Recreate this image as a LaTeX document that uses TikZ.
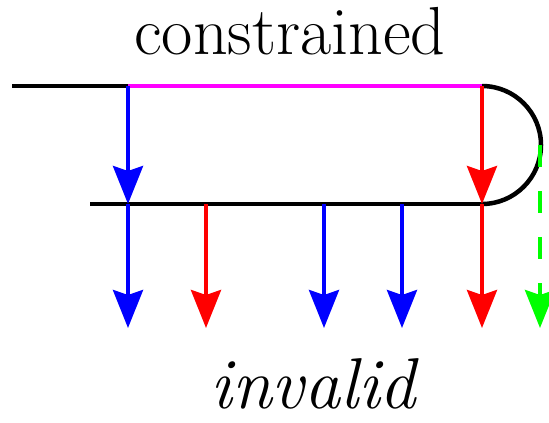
\documentclass[tikz,border=0pt]{standalone}
\usetikzlibrary{arrows.meta}

\definecolor{cblue}{RGB}{0,0,255}
\definecolor{cred}{RGB}{255,0,0}
\definecolor{cgreen}{RGB}{0,255,0}
\definecolor{cmagenta}{RGB}{255,0,255}

\tikzset{
  wire/.style={line width=4.5pt},
  jump/.style={line width=4pt, -{Stealth[length=38pt,width=30pt,inset=5pt]}},
  label/.style={inner sep=0pt, anchor=base},
}

\begin{document}
\begin{tikzpicture}[x=1pt,y=-1pt]
\useasboundingbox (0,0) rectangle (549,423);

% Points on the two levels
\coordinate (inL) at (12,86);
\coordinate (topA) at (128,86);
\coordinate (topE) at (482,86);
\coordinate (outL) at (90,204);
\coordinate (botA) at (128,204);
\coordinate (botB) at (206,204);
\coordinate (botC) at (324,204);
\coordinate (botD) at (402,204);
\coordinate (botE) at (482,204);
\coordinate (arcG) at (540,145);

% Ends of the arrows below
\coordinate (endA) at (128,328);
\coordinate (endB) at (206,328);
\coordinate (endC) at (324,328);
\coordinate (endD) at (402,328);
\coordinate (endE) at (482,328);
\coordinate (endG) at (540,328);

% Upper and lower lines with the bend
\draw[wire] (inL) -- (topA);
\draw[wire, cmagenta] (topA) -- (topE);
\draw[wire] (outL) -- (botE);
\draw[wire] (topE) arc[start angle=90, end angle=-90, radius=59pt];

% Green dashed arrow
\draw[jump, cgreen, dash pattern=on 22pt off 24pt] (arcG) -- (endG);

% Arrows from the upper line
\draw[jump, cblue] (topA) -- (botA);
\draw[jump, cred] (topE) -- (botE);

% Arrows from the lower line
\draw[jump, cblue] (botA) -- (endA);
\draw[jump, cred] (botB) -- (endB);
\draw[jump, cblue] (botC) -- (endC);
\draw[jump, cblue] (botD) -- (endD);
\draw[jump, cred] (botE) -- (endE);

% Labels
\node[label] (top) at (290,54) {\fontsize{68}{68}\selectfont constrained};
\node[label] (bot) at (313,408) {\fontsize{72}{72}\selectfont\itshape invalid};

\end{tikzpicture}
\end{document}
